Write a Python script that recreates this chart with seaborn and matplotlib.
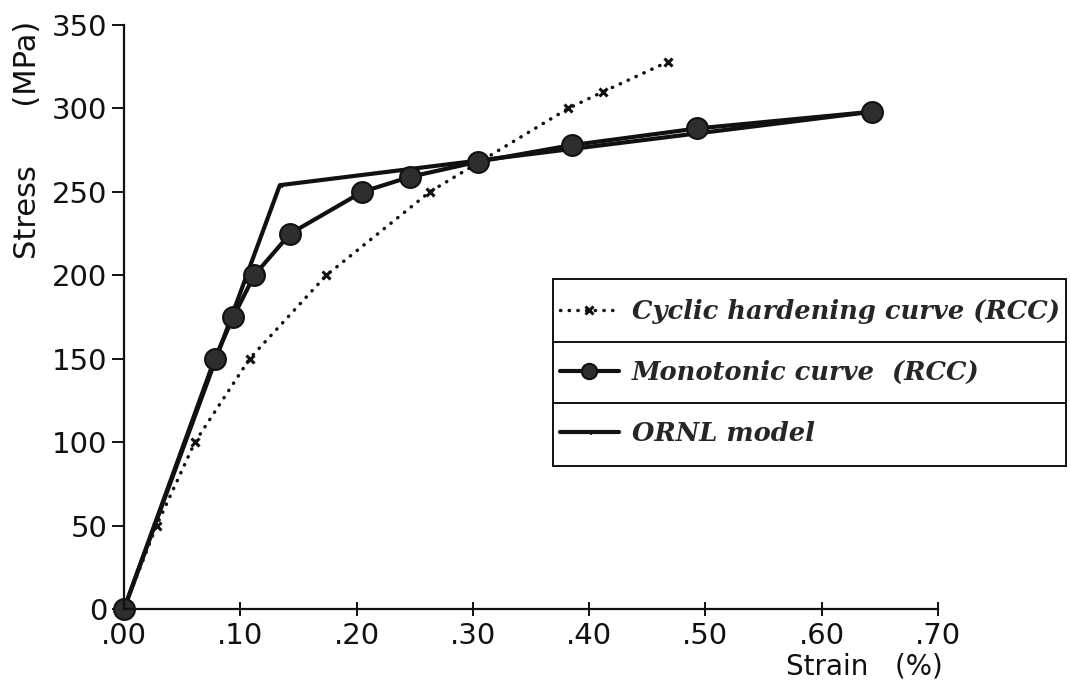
import matplotlib
matplotlib.use("Agg")
import matplotlib.pyplot as plt
from matplotlib.lines import Line2D
from matplotlib.patches import Rectangle
import seaborn as sns
import pandas as pd

# Strain (%) / stress (MPa) data
cyclic_strain = [0.0, 0.028, 0.061, 0.108, 0.174, 0.263, 0.382, 0.412, 0.468]
cyclic_stress = [0, 50, 100, 150, 200, 250, 300, 310, 328]

mono_strain = [0.0, 0.078, 0.094, 0.112, 0.143, 0.205, 0.246, 0.304, 0.385, 0.493, 0.643]
mono_stress = [0, 150, 175, 200, 225, 250, 259, 268, 278, 288, 298]

ornl_strain = [0.0, 0.134, 0.643]
ornl_stress = [0, 254, 298]

x_ticks = [0.0, 0.1, 0.2, 0.3, 0.4, 0.5, 0.6, 0.7]
x_tick_labels = [".00", ".10", ".20", ".30", ".40", ".50", ".60", ".70"]
y_ticks = [0, 50, 100, 150, 200, 250, 300, 350]

labels = ["Cyclic hardening curve (RCC)", "Monotonic curve  (RCC)", "ORNL model"]

sns.set_theme(style="ticks")
plt.rcParams["font.family"] = ["DejaVu Sans"]

ink = "#111111"
W, H = 1070, 693
fig = plt.figure(figsize=(W / 100, H / 100), dpi=100)
ax = fig.add_axes([124 / W, 1 - 609 / H, (938 - 124) / W, (609 - 25) / H])

cyc = pd.DataFrame({"strain": cyclic_strain, "stress": cyclic_stress})
mono = pd.DataFrame({"strain": mono_strain, "stress": mono_stress})
ornl = pd.DataFrame({"strain": ornl_strain, "stress": ornl_stress})

sns.lineplot(data=cyc, x="strain", y="stress", ax=ax, color=ink, lw=2.5,
             linestyle=(0, (0.1, 2.4)), dash_capstyle="round",
             marker="x", markersize=6, mew=2.2, mec=ink,
             label=labels[0], clip_on=False)
sns.lineplot(data=ornl, x="strain", y="stress", ax=ax, color=ink, lw=3.0,
             marker="<", markersize=3, mec=ink,
             label=labels[2], clip_on=False)
sns.lineplot(data=mono, x="strain", y="stress", ax=ax, color=ink, lw=3.0,
             marker="o", markersize=15, mfc="#2e2e2e", mec=ink, mew=1.5,
             label=labels[1], clip_on=False)

ax.set_xlim(0, 0.70)
ax.set_ylim(0, 350)
ax.set_xticks(x_ticks)
ax.set_xticklabels(x_tick_labels)
ax.set_yticks(y_ticks)
ax.set_yticklabels([str(v) for v in y_ticks])
ax.set_xlabel("")
ax.set_ylabel("")

for side in ("top", "right"):
    ax.spines[side].set_visible(False)
for side in ("left", "bottom"):
    ax.spines[side].set_linewidth(1.6)
    ax.spines[side].set_color(ink)

ax.tick_params(axis="x", direction="inout", length=10, width=1.4, colors=ink,
               labelsize=21, pad=4)
ax.tick_params(axis="y", direction="out", length=9, width=1.4, colors=ink,
               labelsize=21, pad=3)

fig.text(28 / W, 1 - 140 / H, "Stress      (MPa)", rotation=90, ha="center",
         va="center", fontsize=22, color=ink)
fig.text(864 / W, 1 - 666 / H, "Strain   (%)", ha="center", va="center",
         fontsize=20, color=ink)

# Legend: frameless entries inside a ruled box
handles, _ = ax.get_legend_handles_labels()
hmap = {h.get_label(): h for h in handles}
ordered = [hmap[l] for l in labels]
leg = ax.legend(ordered, labels, loc="upper right",
                bbox_to_anchor=(1066 / W, 1 - 293 / H),
                bbox_transform=fig.transFigure,
                prop={"family": "DejaVu Serif", "style": "italic",
                      "weight": "bold", "size": 18.5},
                frameon=False, borderpad=0.25, labelspacing=1.4,
                handlelength=2.3, handletextpad=0.5, borderaxespad=0)
for lh in leg.legend_handles:
    if lh.get_marker() == "o":
        lh.set_markersize(11)

fig.canvas.draw()
bb = leg.get_window_extent()
texts = leg.get_texts()
ys = [t.get_window_extent().y0 + t.get_window_extent().height / 2 for t in texts]
step = (ys[0] - ys[-1]) / (len(ys) - 1)
top = ys[0] + step / 2 + 2
bottom = ys[-1] - step / 2 - 2
fig.add_artist(Rectangle((bb.x0 / W, bottom / H), (bb.x1 - bb.x0) / W,
                         (top - bottom) / H, transform=fig.transFigure,
                         fill=False, edgecolor=ink, lw=1.4))
for a, b in zip(ys[:-1], ys[1:]):
    ym = (a + b) / 2
    fig.add_artist(Line2D([bb.x0 / W, bb.x1 / W], [ym / H, ym / H],
                          transform=fig.transFigure, color=ink, lw=1.4))

fig.savefig("out.png", dpi=100)
